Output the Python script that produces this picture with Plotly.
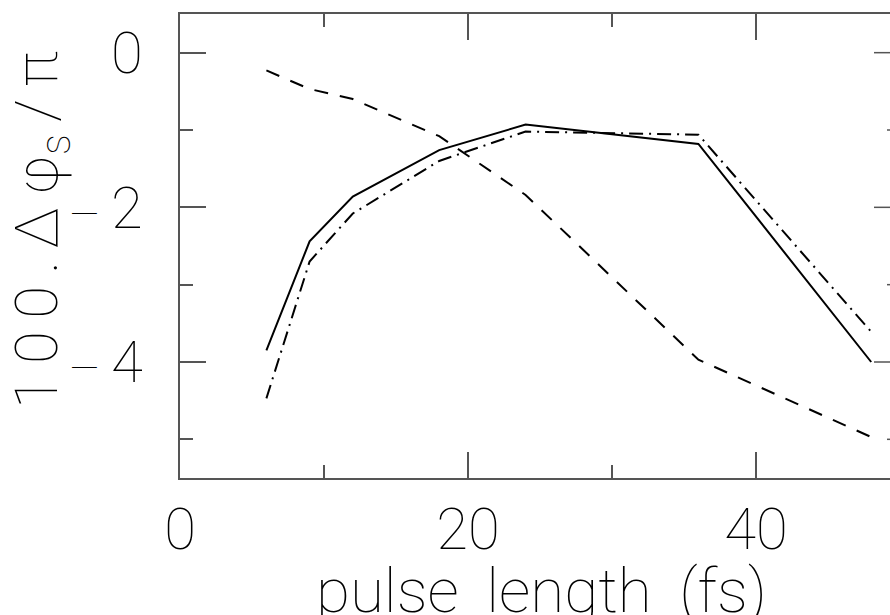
import plotly.graph_objects as go

pulse_length = [6, 9, 12, 18, 24, 36, 48]
solid_vals = [-3.85, -2.44, -1.86, -1.26, -0.93, -1.18, -4.00]
dashdot_vals = [-4.47, -2.70, -2.08, -1.40, -1.02, -1.06, -3.61]
dashed_vals = [-0.23, -0.47, -0.60, -1.08, -1.84, -3.97, -4.97]

x_tickvals = [0, 20, 40]
x_ticktext = ["0", "20", "40"]
y_tickvals = [0, -2, -4]
MINUS = "<span style=\"font-size:38px\">\u2014</span>\u2009"
y_ticktext = ["0", MINUS + "2", MINUS + "4"]
y_right_major = [0, -2, -4]
y_right_minor = [-1, -3, -5]
x_title = "pulse\u2009 length\u2009 (fs)"
y_title = "1\u20090\u20090\u2009.\u2009\u0394\u2009\u03c6<sub>s</sub>\u2009/\u2009\u03c0"

XMAX = 710 / 14.4
FONT = dict(family="Roboto, Inter, DejaVu Sans", color="black", weight=100)

fig = go.Figure()
fig.add_trace(go.Scatter(x=pulse_length, y=solid_vals, mode="lines",
                         line=dict(color="black", width=2), showlegend=False))
fig.add_trace(go.Scatter(x=pulse_length, y=dashdot_vals, mode="lines",
                         line=dict(color="black", width=2, dash="14px,6px,2px,6px"), showlegend=False))
fig.add_trace(go.Scatter(x=pulse_length, y=dashed_vals, mode="lines",
                         line=dict(color="black", width=2, dash="14px,12px"), showlegend=False))

shapes = []
for v in y_right_major:
    shapes.append(dict(type="line", xref="x", yref="y", x0=50 - 26 / 14.4, x1=XMAX, y0=v, y1=v,
                       line=dict(color="#555", width=1.5)))
for v in y_right_minor:
    shapes.append(dict(type="line", xref="x", yref="y", x0=50 - 13 / 14.4, x1=XMAX, y0=v, y1=v,
                       line=dict(color="#555", width=1.5)))

annotations = [
    dict(text=x_title, xref="paper", yref="paper", x=(541 - 180) / 710, y=-(590 - 478) / 464,
         xanchor="center", yanchor="middle", showarrow=False, font=dict(size=62, **FONT)),
    dict(text=y_title, xref="paper", yref="paper", x=(40 - 180) / 710, y=(478 - 230) / 464,
         xanchor="center", yanchor="middle", textangle=-90, showarrow=False,
         font=dict(size=60, **FONT)),
]

fig.update_layout(
    width=890, height=615,
    margin=dict(l=180, r=0, t=14, b=137),
    plot_bgcolor="white", paper_bgcolor="white",
    font=FONT,
    shapes=shapes,
    annotations=annotations,
    xaxis=dict(range=[0, XMAX], showgrid=False, zeroline=False, showline=True, automargin=False,
               linecolor="#555", linewidth=1.5, mirror="allticks",
               ticks="inside", ticklen=26, tickwidth=1.5, tickcolor="#555",
               tickvals=x_tickvals, ticktext=x_ticktext,
               tickfont=dict(size=58, **FONT), ticklabelstandoff=0,
               minor=dict(dtick=10, tick0=0, ticks="inside", ticklen=13, tickwidth=1.5,
                          tickcolor="#555", showgrid=False)),
    yaxis=dict(range=[-5.5, 0.5], showgrid=False, zeroline=False, showline=True, automargin=False,
               linecolor="#555", linewidth=1.5, mirror=False,
               ticks="inside", ticklen=26, tickwidth=1.5, tickcolor="#555",
               tickvals=y_tickvals, ticktext=y_ticktext,
               tickfont=dict(size=58, **FONT), ticklabelstandoff=24,
               minor=dict(dtick=1, tick0=0, ticks="inside", ticklen=13, tickwidth=1.5,
                          tickcolor="#555", showgrid=False)),
)

fig.write_html("out.html")
